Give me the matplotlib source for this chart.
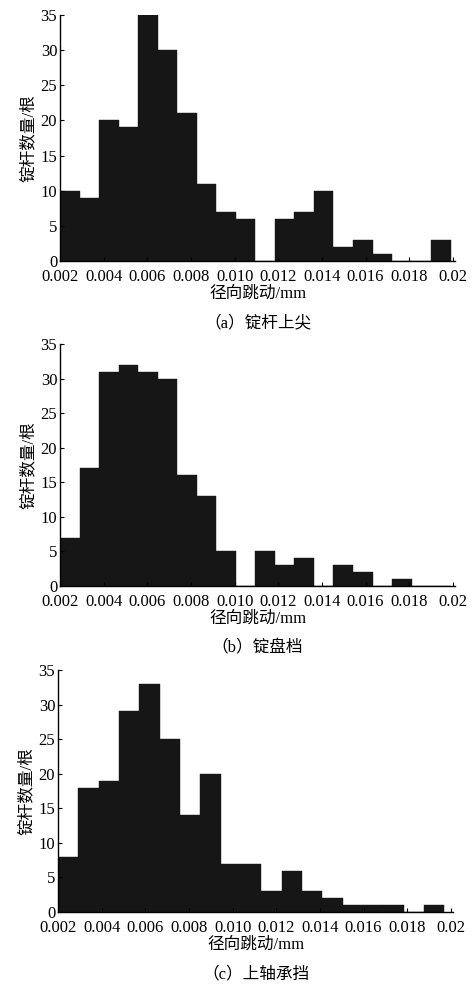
import numpy as np
import matplotlib
matplotlib.use('Agg')
from matplotlib import pyplot as plt

plt.rcParams['font.family'] = ['Liberation Serif', 'Noto Sans CJK SC']
plt.rcParams['font.size'] = 12

# bin counts
counts_a = [10, 9, 20, 19, 35, 30, 21, 11, 7, 6, 0, 6, 7, 10, 2, 3, 1, 0, 0, 3]
counts_b = [7, 17, 31, 32, 31, 30, 16, 13, 5, 0, 5, 3, 4, 0, 3, 2, 0, 1, 0, 0]
counts_c = [8, 18, 19, 29, 33, 25, 14, 20, 7, 7, 3, 6, 3, 2, 1, 1, 1, 0, 1]

bin_start = 0.002
bin_end_a = 0.0199
bin_end_b = 0.0199
bin_end_c = 0.0197

xticks = [0.002, 0.004, 0.006, 0.008, 0.010, 0.012, 0.014, 0.016, 0.018, 0.020]
xtick_labels = ["0.002", "0.004", "0.006", "0.008", "0.010",
                "0.012", "0.014", "0.016", "0.018", "0.02"]
yticks = [0, 5, 10, 15, 20, 25, 30, 35]

xlabel = "径向跳动/mm"
ylabel = "锭杆数量/根"
captions = ["（a）锭杆上尖", "（b）锭盘档", "（c）上轴承挡"]

W, H = 472, 984
fig = plt.figure(figsize=(W / 100, H / 100), dpi=100)

# axes boxes in pixels: left, top, right, bottom
boxes = [(60, 15, 455, 261), (60, 344, 455, 586), (58, 670, 453, 912)]
panels = [(counts_a, bin_end_a), (counts_b, bin_end_b), (counts_c, bin_end_c)]

for (l, t, r, b), (counts, bin_end), cap in zip(boxes, panels, captions):
    ax = fig.add_axes([l / W, 1 - b / H, (r - l) / W, (b - t) / H])
    edges = np.linspace(bin_start, bin_end, len(counts) + 1)
    ax.bar(edges[:-1], counts, width=np.diff(edges), align='edge',
           color='#161616', edgecolor='#161616', linewidth=0.3)
    ax.set_xlim(0.002, 0.0201)
    ax.set_ylim(0, 35)
    ax.set_xticks(xticks)
    ax.set_xticklabels(xtick_labels)
    ax.set_yticks(yticks)
    ax.spines['top'].set_visible(False)
    ax.spines['right'].set_visible(False)
    ax.spines['left'].set_linewidth(1.0)
    ax.spines['bottom'].set_linewidth(1.0)
    ax.tick_params(direction='in', length=3, width=0.8, labelsize=12)
    ax.tick_params(axis='x', pad=6)
    ax.tick_params(axis='y', pad=2)
    ax.set_xlabel(xlabel, fontsize=12, labelpad=0)
    ax.set_ylabel(ylabel, fontsize=12, labelpad=3)
    fig.text((l + r) / 2 / W, 1 - (b + 62) / H, cap, ha='center', va='center',
             fontsize=12)

plt.savefig("out.png", dpi=100)
